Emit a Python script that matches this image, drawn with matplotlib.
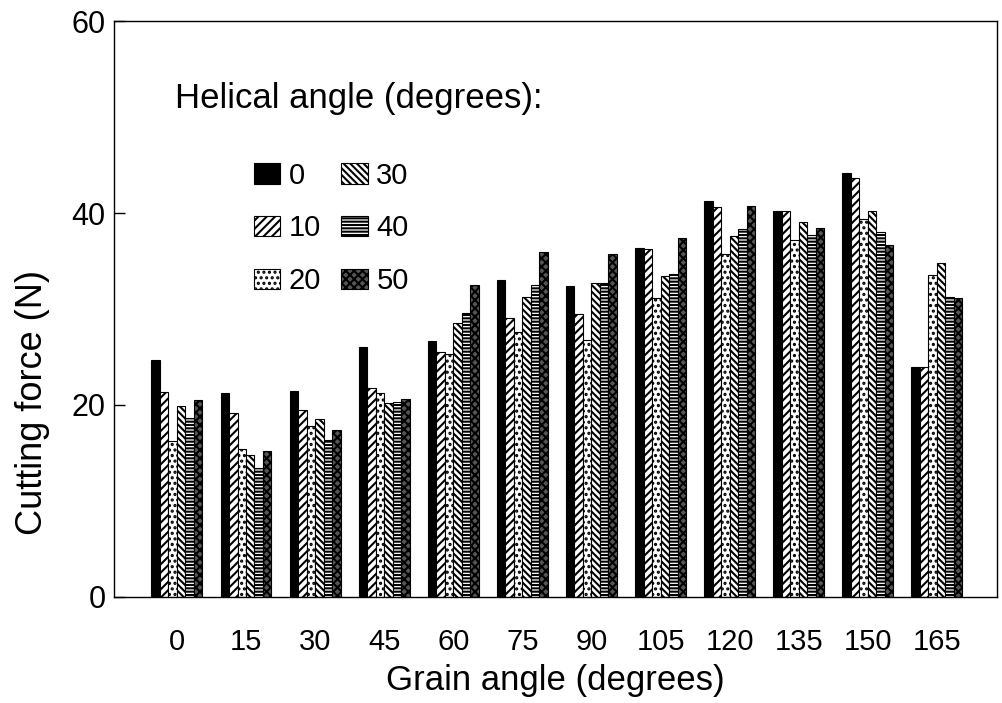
import numpy as np
import matplotlib.pyplot as plt

plt.rcParams['font.family'] = ['Liberation Sans', 'DejaVu Sans']
plt.rcParams['hatch.linewidth'] = 1.5

# Grain angle groups (x axis) and helical angle series
grain_angles = ['0', '15', '30', '45', '60', '75', '90', '105', '120', '135', '150', '165']
helical_angles = ['0', '10', '20', '30', '40', '50']

# Cutting force (N), one list per helical angle
force_h0 = [24.7, 21.3, 21.5, 26.0, 26.7, 33.0, 32.4, 36.4, 41.3, 40.2, 44.2, 24.0]
force_h10 = [21.4, 19.2, 19.5, 21.8, 25.5, 29.1, 29.5, 36.3, 40.6, 40.2, 43.6, 24.0]
force_h20 = [16.3, 15.4, 17.8, 21.2, 25.3, 27.6, 26.8, 31.1, 35.7, 37.2, 39.4, 33.5]
force_h30 = [19.9, 14.8, 18.5, 20.2, 28.5, 31.2, 32.7, 33.4, 37.6, 39.1, 40.2, 34.8]
force_h40 = [18.6, 13.4, 16.4, 20.3, 29.6, 32.5, 32.7, 33.6, 38.3, 37.7, 38.0, 31.3]
force_h50 = [20.5, 15.2, 17.4, 20.6, 32.5, 35.9, 35.7, 37.4, 40.7, 38.4, 36.7, 31.1]

series = [force_h0, force_h10, force_h20, force_h30, force_h40, force_h50]
faces = ['black', 'white', 'white', 'white', 'white', '#555555']
hatches = [None, '////', '...', '\\\\\\\\\\', '-----', 'xxxx']

fig = plt.figure(figsize=(10.03, 7.03), dpi=100)
ax = fig.add_axes([0.1137, 0.1508, 0.8803, 0.8193])

x = np.arange(len(grain_angles))
w = 0.123
for k, vals in enumerate(series):
    ax.bar(x + (k - 2.5) * w, vals, width=w, color=faces[k], edgecolor='black',
           hatch=hatches[k], linewidth=0.8, label=helical_angles[k])

ax.set_xlim(-0.91, 11.87)
ax.set_ylim(0, 60)
ax.set_yticks([0, 20, 40, 60])
ax.set_xticks(x)
ax.set_xticklabels(grain_angles)
ax.tick_params(axis='x', length=0, pad=22, labelsize=21)
ax.tick_params(axis='y', direction='in', length=8, width=1, pad=6, labelsize=22)
for s in ax.spines.values():
    s.set_linewidth(1.0)

ax.set_xlabel('Grain angle (degrees)', fontsize=25, labelpad=6)
ax.set_ylabel('Cutting force (N)', fontsize=26)
ax.yaxis.set_label_coords(-0.072, 0.337)

ax.text(0.069, 0.866, 'Helical angle (degrees):', transform=ax.transAxes,
        fontsize=25, va='center', ha='left')
ax.legend(ncol=2, frameon=False, fontsize=21, loc='upper left',
          bbox_to_anchor=(0.158, 0.756), borderpad=0, borderaxespad=0,
          handlelength=0.9, handleheight=0.7, handletextpad=0.3,
          columnspacing=0.7, labelspacing=0.85)

fig.savefig('out.png', dpi=100)
